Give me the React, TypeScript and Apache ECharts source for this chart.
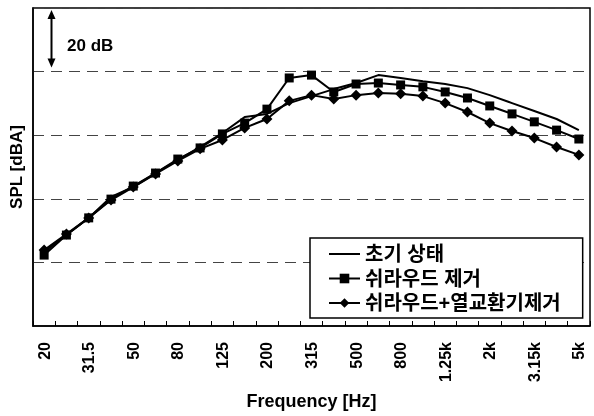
import React, { useEffect, useRef } from 'react';
import * as echarts from 'echarts';

const categories = ['20', '25', '31.5', '40', '50', '63', '80', '100', '125', '160', '200', '250', '315', '400', '500', '630', '800', '1k', '1.25k', '1.6k', '2k', '2.5k', '3.15k', '4k', '5k'];
const seriesNames = ['초기 상태', '쉬라우드 제거', '쉬라우드+열교환기제거'];
const initialState = [23.3, 28.6, 34.0, 40.6, 43.7, 48.1, 52.2, 56.3, 60.7, 65.7, 66.7, 70.1, 72.3, 74.5, 76.4, 78.9, 78.0, 77.0, 76.1, 74.8, 72.6, 70.1, 67.6, 65.1, 61.6];
const shroudRemoved = [22.3, 28.6, 34.0, 39.9, 44.0, 48.1, 52.5, 56.0, 60.4, 63.8, 68.2, 78.0, 78.9, 73.6, 76.1, 76.4, 75.8, 75.2, 73.6, 71.7, 69.2, 66.7, 64.2, 61.6, 58.8];
const shroudHxRemoved = [23.9, 28.9, 34.0, 39.6, 43.7, 47.8, 51.9, 55.7, 58.5, 62.3, 65.1, 70.8, 72.6, 71.4, 72.6, 73.3, 73.0, 72.3, 70.1, 67.3, 63.8, 61.3, 59.1, 56.3, 53.8];
const yMin = 0;
const yMax = 100;
const yStep = 20;
const scaleLabel = '20 dB';
const xName = 'Frequency [Hz]';
const yName = 'SPL [dBA]';

export default function App() {
  const ref = useRef<HTMLDivElement>(null);
  useEffect(() => {
    const chart = echarts.init(ref.current!, null, { renderer: 'svg' });
    const font = '"Liberation Sans", Arial, "Noto Sans CJK KR", sans-serif';
    const lineStyle = { color: '#000', width: 2 };
    chart.setOption({
      animation: false,
      grid: { left: 31, right: 4, top: 8, bottom: 90, show: true, borderColor: '#000', borderWidth: 1.5, backgroundColor: 'transparent' },
      legend: {
        orient: 'vertical',
        left: 310,
        top: 238,
        symbolKeepAspect: true,
        data: [
          { name: seriesNames[0], icon: 'path://M0,0 L31,0 L31,2 L0,2 Z' },
          { name: seriesNames[1], icon: 'inherit' },
          { name: seriesNames[2], icon: 'inherit' },
        ],
        backgroundColor: '#fff',
        borderColor: '#000',
        borderWidth: 1.5,
        padding: [6, 22, 5, 18],
        itemWidth: 31,
        itemHeight: 12,
        itemGap: 4.5,
        textStyle: { fontFamily: font, fontSize: 20, fontWeight: 'bold', color: '#000', lineHeight: 20 },
        z: 10,
      },
      xAxis: {
        type: 'category',
        data: categories,
        boundaryGap: true,
        name: xName,
        nameLocation: 'middle',
        nameGap: 66,
        nameTextStyle: { fontFamily: font, fontSize: 18, fontWeight: 'bold', color: '#000' },
        axisLine: { show: true, lineStyle: { color: '#000', width: 1.5 } },
        axisTick: { show: true, inside: true, length: 5, interval: 0, lineStyle: { color: '#000', width: 1 } },
        axisLabel: { interval: 1, rotate: 90, margin: 16, fontFamily: font, fontSize: 16, fontWeight: 'bold', color: '#000' },
        splitLine: { show: false },
      },
      yAxis: {
        type: 'value',
        min: yMin,
        max: yMax,
        interval: yStep,
        name: yName,
        nameLocation: 'middle',
        nameGap: 8,
        nameTextStyle: { fontFamily: font, fontSize: 17, fontWeight: 'bold', color: '#000' },
        axisLine: { show: true, lineStyle: { color: '#000', width: 1.5 } },
        axisTick: { show: false },
        axisLabel: { show: false },
        splitLine: { show: true, lineStyle: { color: '#444', width: 1.2, type: [11, 7] } },
      },
      series: [
        { name: seriesNames[0], type: 'line', data: initialState, symbol: 'none', lineStyle, itemStyle: { color: '#000' } },
        { name: seriesNames[1], type: 'line', data: shroudRemoved, symbol: 'rect', symbolSize: 9, lineStyle, itemStyle: { color: '#000' } },
        { name: seriesNames[2], type: 'line', data: shroudHxRemoved, symbol: 'diamond', symbolSize: 11, lineStyle, itemStyle: { color: '#000' } },
      ],
    });
    const yTop = chart.convertToPixel({ yAxisIndex: 0 }, yMax) as number;
    const yBot = chart.convertToPixel({ yAxisIndex: 0 }, yMax - yStep) as number;
    const ax = 51.5;
    const t1 = yTop + 2;
    const t2 = yBot - 4;
    chart.setOption({
      graphic: [
        { type: 'line', shape: { x1: ax, y1: t1 + 6, x2: ax, y2: t2 - 6 }, style: { stroke: '#000', lineWidth: 2 } },
        { type: 'polygon', shape: { points: [[ax, t1], [ax - 4, t1 + 9], [ax + 4, t1 + 9]] }, style: { fill: '#000' } },
        { type: 'polygon', shape: { points: [[ax, t2], [ax - 4, t2 - 9], [ax + 4, t2 - 9]] }, style: { fill: '#000' } },
        { type: 'text', x: 67, y: (t1 + t2) / 2 + 7, style: { text: scaleLabel, fontFamily: font, fontSize: 17, fontWeight: 'bold', fill: '#000', verticalAlign: 'middle' } },
      ],
    });
    return () => chart.dispose();
  }, []);
  return <div ref={ref} style={{ position: 'fixed', left: 0, top: 0, width: 594, height: 416 }} />;
}
